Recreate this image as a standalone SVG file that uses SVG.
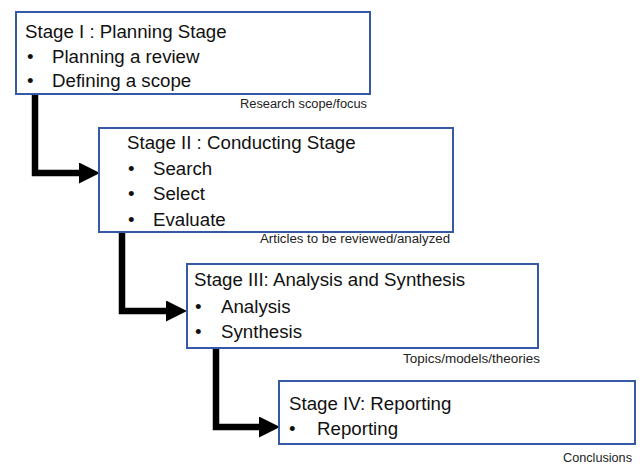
<svg xmlns="http://www.w3.org/2000/svg" width="642" height="464" viewBox="0 0 642 464">
<style>
.box{fill:#fff;stroke:#3559a4;stroke-width:2}
.t{font-family:"Liberation Sans",Arial,sans-serif;font-size:18.7px;fill:#111}
.s{font-family:"Liberation Sans",Arial,sans-serif;font-size:12.5px;fill:#222;text-anchor:end}
.c{fill:none;stroke:#000;stroke-width:6.5;stroke-linejoin:miter}
</style>
<defs>
<marker id="ah" viewBox="0 0 20 20" refX="0" refY="10" markerWidth="21" markerHeight="21" markerUnits="userSpaceOnUse" orient="auto" preserveAspectRatio="none">
<path d="M0 0 L20 10 L0 20 z" fill="#000"/>
</marker>
</defs>
<rect width="642" height="464" fill="#fff"/>
<g id="connectors">
<path class="c" d="M35 95 V173 H79" marker-end="url(#ah)"/>
<path class="c" d="M122 232 V311 H166" marker-end="url(#ah)"/>
<path class="c" d="M216 348 V427 H259" marker-end="url(#ah)"/>
</g>
<g id="stage1">
<rect class="box" x="16" y="12" width="354" height="82"/>
<text class="t" x="25" y="38">Stage I : Planning Stage</text>
<text class="t" x="27" y="63">•</text><text class="t" x="52" y="63">Planning a review</text>
<text class="t" x="27" y="87">•</text><text class="t" x="52" y="87">Defining a scope</text>
</g>
<text class="s" x="367" y="108" textLength="127" lengthAdjust="spacingAndGlyphs">Research scope/focus</text>
<g id="stage2">
<rect class="box" x="99" y="128" width="354" height="104"/>
<text class="t" x="127" y="149">Stage II : Conducting Stage</text>
<text class="t" x="128" y="175">•</text><text class="t" x="153" y="175">Search</text>
<text class="t" x="128" y="200">•</text><text class="t" x="153" y="200">Select</text>
<text class="t" x="128" y="226">•</text><text class="t" x="153" y="226">Evaluate</text>
</g>
<text class="s" x="450" y="243" textLength="190" lengthAdjust="spacingAndGlyphs">Articles to be reviewed/analyzed</text>
<g id="stage3">
<rect class="box" x="187" y="264" width="351" height="84"/>
<text class="t" x="194" y="286">Stage III: Analysis and Synthesis</text>
<text class="t" x="195" y="313">•</text><text class="t" x="221" y="313">Analysis</text>
<text class="t" x="195" y="338">•</text><text class="t" x="221" y="338">Synthesis</text>
</g>
<text class="s" x="540" y="363" textLength="137" lengthAdjust="spacingAndGlyphs">Topics/models/theories</text>
<g id="stage4">
<rect class="box" x="279" y="381" width="356" height="63"/>
<text class="t" x="289" y="410">Stage IV: Reporting</text>
<text class="t" x="289" y="435">•</text><text class="t" x="317" y="435">Reporting</text>
</g>
<text class="s" x="632" y="462" textLength="69" lengthAdjust="spacingAndGlyphs">Conclusions</text>
</svg>
